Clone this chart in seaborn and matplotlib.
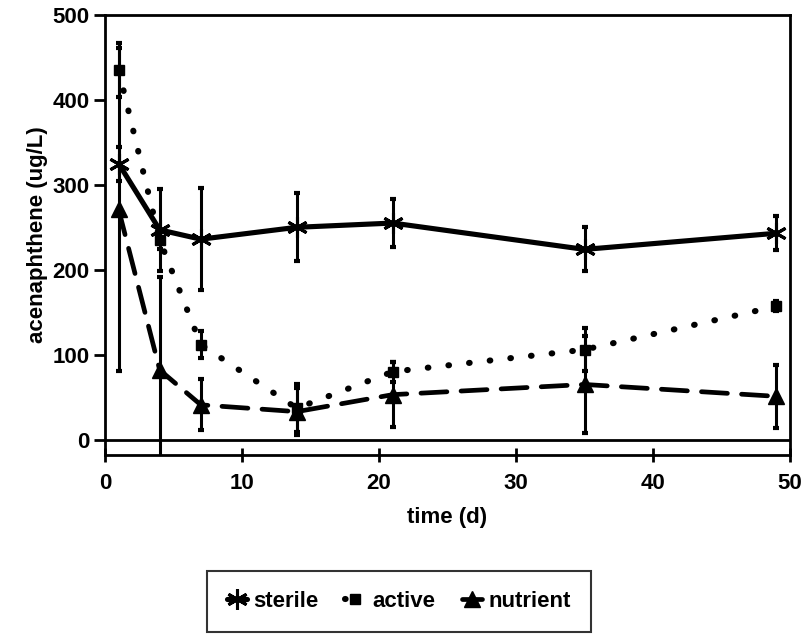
import pandas as pd
import numpy as np
import seaborn as sns
from matplotlib import pyplot as plt

# values (time in days, acenaphthene in ug/L)
days = [1, 4, 7, 14, 21, 35, 49]
sterile = [325, 247, 236, 250, 255, 224, 243]
sterile_err = [20, 48, 60, 40, 28, 26, 20]
active = [435, 235, 112, 37, 80, 106, 157]
active_err = [32, 10, 16, 28, 12, 25, 6]
nutrient = [271, 82, 41, 33, 53, 65, 51]
nutrient_err = [190, 110, 30, 28, 38, 57, 37]

sns.set_style("ticks")
plt.rcParams['font.family'] = ['Liberation Sans', 'DejaVu Sans']
plt.rcParams['font.weight'] = 'bold'
for k in ['text.color', 'axes.labelcolor', 'xtick.color', 'ytick.color', 'axes.edgecolor']:
    plt.rcParams[k] = 'black'

fig = plt.figure(figsize=(8.07, 6.35), dpi=100)
ax = fig.add_axes([0.130, 0.2835, 0.849, 0.693])

df = pd.DataFrame({"time": days, "sterile": sterile, "active": active, "nutrient": nutrient})

styles = {
    "sterile": dict(ls="-", marker=(6, 2, 0), ms=15, mew=2.2, lw=3.7),
    "active": dict(ls=(0, (0.1, 3.3)), marker="s", ms=7, mew=1, lw=4.4),
    "nutrient": dict(ls=(0, (5.5, 3)), marker="^", ms=11, mew=1, lw=3.4),
}
errs = {"sterile": sterile_err, "active": active_err, "nutrient": nutrient_err}

for name in ["sterile", "active", "nutrient"]:
    st = styles[name]
    sns.lineplot(data=df, x="time", y=name, ax=ax, color="black", label=name,
                 linestyle=st["ls"], marker=st["marker"], markersize=st["ms"],
                 markeredgewidth=st["mew"], markeredgecolor="black", linewidth=st["lw"],
                 dash_capstyle="round")
    ax.errorbar(days, df[name], yerr=errs[name], fmt="none", ecolor="black",
                elinewidth=2.2, capsize=2, capthick=3, zorder=3)

ax.axhline(0, color="black", lw=2)
ax.set_xlim(0, 50)
ax.set_ylim(-18, 500)
ax.set_xticks([0, 10, 20, 30, 40, 50])
ax.set_yticks([0, 100, 200, 300, 400, 500])
for s in ax.spines.values():
    s.set_linewidth(2)
    s.set_visible(True)
ax.tick_params(axis="x", direction="inout", length=10, width=2, labelsize=16, pad=8)
ax.tick_params(axis="y", direction="out", length=8, width=2, labelsize=16, pad=3)
for lab in ax.get_xticklabels() + ax.get_yticklabels():
    lab.set_fontweight("heavy")

ax.set_xlabel("time (d)", fontsize=16, fontweight="heavy", labelpad=9)
ax.set_ylabel("acenaphthene (ug/L)", fontsize=16, fontweight="heavy", labelpad=3)

ax.get_legend().remove()
h, l = ax.get_legend_handles_labels()
leg = fig.legend(h, l, loc="center", bbox_to_anchor=(0.494, 0.053), ncol=3,
                 frameon=True, fancybox=False, edgecolor="black", handlelength=0.9,
                 handletextpad=0.3, columnspacing=1.2, borderpad=0.9,
                 prop={"size": 16, "weight": "heavy"})
leg.get_frame().set_linewidth(1.5)

fig.savefig("out.png", dpi=100)
